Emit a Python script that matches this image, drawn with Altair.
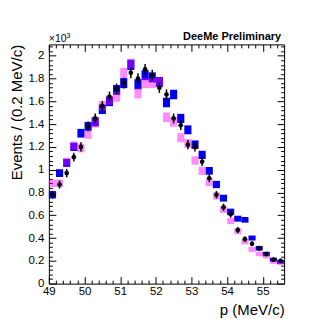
import altair as alt
import pandas as pd

# bin centres (MeV/c), bin width 0.2
p = [49.1, 49.3, 49.5, 49.7, 49.9, 50.1, 50.3, 50.5, 50.7, 50.9, 51.1,
     51.3, 51.5, 51.7, 51.9, 52.1, 52.3, 52.5, 52.7, 52.9, 53.1, 53.3,
     53.5, 53.7, 53.9, 54.1, 54.3, 54.5, 54.7, 54.9, 55.1, 55.3, 55.5]

# values in units of 10^3 events
blue = [0.78, 0.97, 1.06, 1.20, 1.32, 1.38, 1.42, 1.53, 1.60, 1.70, 1.76,
        1.92, 1.75, 1.83, 1.81, 1.77, 1.59, 1.66, 1.45, 1.35, 1.22, 1.13,
        0.99, 0.87, 0.75, 0.63, 0.57, 0.56, 0.40, 0.31, 0.26, 0.21, 0.19]
magenta = [0.88, 0.88, 1.07, 1.21, 1.19, 1.31, 1.41, 1.56, 1.61, 1.64, 1.85,
           1.93, 1.67, 1.76, 1.76, 1.77, 1.46, 1.42, 1.28, 1.23, 1.08, 0.99,
           0.89, 0.77, 0.65, 0.55, 0.46, 0.37, 0.30, 0.26, 0.24, 0.19, 0.18]
data = [0.78, 0.87, 0.97, 1.11, 1.20, 1.38, 1.45, 1.56, 1.64, 1.71, 1.76,
        1.85, 1.80, 1.88, 1.83, 1.72, 1.66, 1.45, 1.39, 1.22, 1.20, 1.07,
        0.925, 0.78, 0.67, 0.61, 0.47, 0.39, 0.35, 0.31, 0.26, 0.21, 0.20]
data_err = [0.035, 0.035, 0.037, 0.038, 0.040, 0.042, 0.043, 0.044, 0.045, 0.046, 0.047,
            0.048, 0.047, 0.048, 0.048, 0.046, 0.045, 0.043, 0.042, 0.040, 0.040, 0.037,
            0.035, 0.033, 0.031, 0.030, 0.027, 0.025, 0.023, 0.022, 0.020, 0.018, 0.018]
box_err = [0.032, 0.034, 0.035, 0.037, 0.038, 0.039, 0.040, 0.041, 0.042, 0.043, 0.044,
           0.045, 0.044, 0.044, 0.044, 0.044, 0.042, 0.042, 0.040, 0.039, 0.037, 0.036,
           0.034, 0.032, 0.030, 0.028, 0.026, 0.025, 0.022, 0.020, 0.019, 0.017, 0.016]

x_major = [49, 50, 51, 52, 53, 54, 55]
x_minor = [49.2, 49.4, 49.6, 49.8, 50.2, 50.4, 50.6, 50.8, 51.2, 51.4, 51.6, 51.8,
           52.2, 52.4, 52.6, 52.8, 53.2, 53.4, 53.6, 53.8, 54.2, 54.4, 54.6, 54.8,
           55.2, 55.4]
y_major = [0, 0.2, 0.4, 0.6, 0.8, 1.0, 1.2, 1.4, 1.6, 1.8, 2.0]
y_minor = [round(0.04 * i, 2) for i in range(1, 53) if i % 5 != 0]

title_text = ["DeeMe Preliminary"]
exp_text = ["×10"]
exp_sup = ["3"]
x_title = "p (MeV/c)"
y_title = "Events / (0.2 MeV/c)"

FONT = "Liberation Sans"

df = pd.DataFrame({"p": p, "blue": blue, "magenta": magenta, "data": data,
                   "data_err": data_err, "box_err": box_err})

xs = alt.Scale(domain=[49, 55.6], nice=False, zero=False)
ys = alt.Scale(domain=[0, 2.1], nice=False, zero=False)

MAJ = 7
MIN = 3.5


def tick_axis(orient, values, size):
    return alt.Axis(orient=orient, values=values, labels=False, domain=False, grid=False,
                    ticks=True, tickSize=size, offset=-size, tickColor="black",
                    tickWidth=1, title=None)


ax_x_lab = alt.Axis(orient="bottom", values=x_major, ticks=False, tickSize=0, domain=False,
                    grid=False, labelFont=FONT, labelFontSize=11.5, labelColor="black",
                    labelPadding=2, labelFlush=False, labelOverlap=False, format="d",
                    title=x_title, titleFont=FONT, titleFontSize=15, titleFontWeight="normal",
                    titleColor="black", titleX=236, titleY=31, titleAlign="right",
                    titleBaseline="alphabetic")
ax_y_lab = alt.Axis(orient="left", values=y_major, ticks=False, tickSize=0, domain=False,
                    grid=False, labelFont=FONT, labelFontSize=11.5, labelColor="black",
                    labelPadding=5, labelFlush=False, labelOverlap=False, format=".1~f",
                    title=y_title, titleFont=FONT, titleFontSize=15, titleFontWeight="normal",
                    titleColor="black", titleX=-32, titleY=0, titleAlign="right",
                    titleBaseline="middle")

base = alt.Chart(df).transform_calculate(
    lo="datum.p - 0.1", hi="datum.p + 0.1",
    blo="datum.blue - datum.box_err", bhi="datum.blue + datum.box_err",
    mlo="datum.magenta - datum.box_err", mhi="datum.magenta + datum.box_err",
    dlo="datum.data - datum.data_err", dhi="datum.data + datum.data_err",
)

blue_layer = base.mark_rect(color="#0000ee").encode(
    x=alt.X("lo:Q", scale=xs, axis=ax_x_lab), x2="hi:Q",
    y=alt.Y("blo:Q", scale=ys, axis=ax_y_lab), y2="bhi:Q",
)
mag_layer = base.mark_rect(color="#ff00ff", opacity=0.45).encode(
    x=alt.X("lo:Q", scale=xs, axis=tick_axis("bottom", x_major, MAJ)), x2="hi:Q",
    y=alt.Y("mlo:Q", scale=ys, axis=tick_axis("left", y_major, MAJ)), y2="mhi:Q",
)
err_layer = base.mark_rule(color="black", strokeWidth=1.5).encode(
    x=alt.X("p:Q", scale=xs, axis=tick_axis("bottom", x_minor, MIN)),
    y=alt.Y("dlo:Q", scale=ys, axis=tick_axis("left", y_minor, MIN)), y2="dhi:Q",
)
pt_layer = base.mark_circle(color="black", size=22, opacity=1).encode(
    x=alt.X("p:Q", scale=xs, axis=tick_axis("top", x_major, MAJ)),
    y=alt.Y("data:Q", scale=ys, axis=tick_axis("right", y_major, MAJ)),
)
ghost_layer = base.mark_point(opacity=0).encode(
    x=alt.X("p:Q", scale=xs, axis=tick_axis("top", x_minor, MIN)),
    y=alt.Y("data:Q", scale=ys, axis=tick_axis("right", y_minor, MIN)),
)

title_layer = alt.Chart(pd.DataFrame({"t": title_text})).mark_text(
    align="right", baseline="alphabetic", font=FONT, fontWeight="bold", fontSize=11,
    color="black").encode(x=alt.value(233), y=alt.value(-4), text="t:N")
exp_layer = alt.Chart(pd.DataFrame({"t": exp_text})).mark_text(
    align="left", baseline="alphabetic", font=FONT, fontSize=10.5,
    color="black").encode(x=alt.value(0), y=alt.value(-2), text="t:N")
sup_layer = alt.Chart(pd.DataFrame({"t": exp_sup})).mark_text(
    align="left", baseline="alphabetic", font=FONT, fontSize=7.5,
    color="black").encode(x=alt.value(17.5), y=alt.value(-6), text="t:N")

chart = alt.layer(
    blue_layer, mag_layer, err_layer, pt_layer, ghost_layer,
    title_layer, exp_layer, sup_layer,
).resolve_axis(x="independent", y="independent").properties(
    width=236, height=240,
    autosize=alt.AutoSizeParams(type="none"),
    padding={"left": 41, "top": 36, "right": 40, "bottom": 35},
).configure_view(stroke="black", strokeWidth=1)

chart.save("out.html", embed_options={"renderer": "svg", "actions": False})
